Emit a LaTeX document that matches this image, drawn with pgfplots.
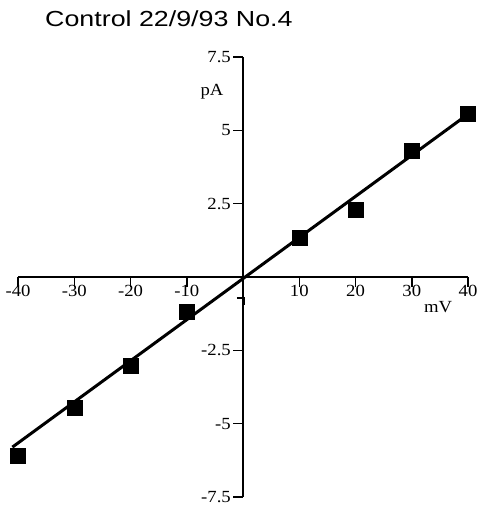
\documentclass[border=0pt]{standalone}
\usepackage{fontspec}
\setmainfont{Liberation Serif}
\newfontfamily\titlefont{Liberation Sans}
\newfontfamily\tickfont[FakeStretch=1.1]{Liberation Serif}
\usepackage{pgfplots}
\pgfplotsset{compat=1.18}
\begin{document}
\begin{tikzpicture}[x=1pt,y=1pt]
\useasboundingbox (0,0) rectangle (481,513);
\node[anchor=base west, inner sep=0] at (45,486) {\titlefont\fontsize{21.8}{24}\selectfont\scalebox{1.23}[1]{Control 22/9/93 No.4}};
\begin{axis}[
  at={(18pt,16pt)}, anchor=south west,
  scale only axis, width=450pt, height=440pt,
  xmin=-40, xmax=40, ymin=-7.5, ymax=7.5,
  axis lines=middle,
  axis line style={line width=1.8pt, -},
  clip=false,
  xtick={-40,-30,-20,-10,10,20,30,40},
  xticklabels={-40,-30,-20,-10,10,20,30,40},
  ytick={-7.5,-5,-2.5,2.5,5,7.5},
  yticklabels={-7.5,-5,-2.5,2.5,5,7.5},
  tick align=outside,
  major tick length=10pt,
  tick style={line width=1.5pt, black},
  xticklabel style={font=\tickfont\fontsize{17}{17}\selectfont, inner sep=0pt, yshift=2pt},
  yticklabel style={font=\tickfont\fontsize{17}{17}\selectfont, inner sep=2pt},
]
\addplot[black, line width=3pt, no markers] coordinates {(-41,-5.8) (40,5.55)};
\addplot[only marks, mark=square*, mark size=7.5pt, black] coordinates {
(-40,-6.08) (-30,-4.47) (-20,-3.04) (-10,-1.19)
(10,1.33) (20,2.29) (30,4.30) (40,5.56)};
\draw[line width=1.5pt] (axis cs:-1.1,-0.72) -- (axis cs:0.15,-0.72) -- (axis cs:0.15,-0.95);
\node[font=\tickfont\fontsize{17}{17}\selectfont] at (axis cs:-5.5,6.31) {pA};
\node[font=\tickfont\fontsize{17}{17}\selectfont] at (axis cs:34.7,-1.02) {mV};
\end{axis}
\end{tikzpicture}
\end{document}
